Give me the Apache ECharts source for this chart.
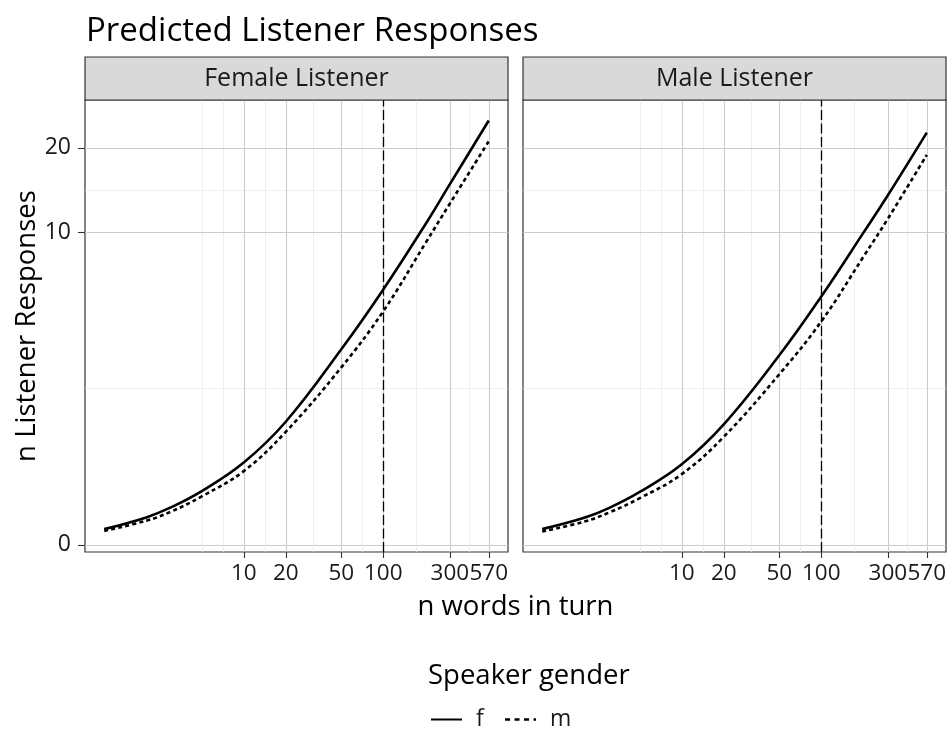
<!DOCTYPE html>
<html>
<head>
<meta charset="utf-8">
<script src="https://cdn.jsdelivr.net/npm/echarts@6/dist/echarts.min.js"></script>
<style>
  html, body { margin: 0; padding: 0; background: #ffffff; }
  #chart { width: 952px; height: 731px; }
</style>
</head>
<body>
<div id="chart"></div>
<script>
// Predicted number of listener responses by turn length (words), per listener and speaker gender
const wordCounts      = [1, 2, 3, 5, 10, 20, 50, 100, 200, 300, 570];
const femaleListenerF = [0.128, 0.234, 0.332, 0.51, 0.88, 1.57, 3.48, 6.09, 10.67, 14.9, 24.9];
const femaleListenerM = [0.113, 0.203, 0.289, 0.45, 0.76, 1.38, 2.9, 5.0, 9.1, 12.7, 21.1];
const maleListenerF   = [0.128, 0.23, 0.325, 0.50, 0.856, 1.52, 3.28, 5.72, 9.94, 13.6, 22.6];
const maleListenerM   = [0.108, 0.195, 0.28, 0.43, 0.72, 1.29, 2.7, 4.55, 8.1, 11.2, 18.9];

const xTicks = [10, 20, 50, 100, 300, 570];
const yTicks = [0, 10, 20];
const referenceWords = 100;
const panelNames = ['Female Listener', 'Male Listener'];
const genderNames = ['f', 'm'];

const FONT = '"Open Sans", "Noto Sans", sans-serif';

// axis transforms: log10 on x, log(1 + y) on y
const tx = v => Math.log10(v);
const ty = v => Math.log1p(v);

function expand(lo, hi) {
  const d = (hi - lo) * 0.05;
  return [lo - d, hi + d];
}
const allValues = [].concat(femaleListenerF, femaleListenerM, maleListenerF, maleListenerM);
const xLim = expand(tx(Math.min(...wordCounts)), tx(Math.max(...wordCounts)));
const yLim = expand(ty(Math.min(...allValues)), ty(Math.max(...allValues)));

// minor grid: midpoints between major breaks, with one extra step below the first break
function minorBreaks(major, lim) {
  const b = major.slice();
  if (lim[0] < b[0]) b.unshift(b[0] - (b[1] - b[0]));
  const out = [];
  for (let i = 0; i < b.length - 1; i++) {
    out.push(b[i], (b[i] + b[i + 1]) / 2);
  }
  return out.filter(v => v > lim[0] && v < lim[1] && !major.some(m => Math.abs(m - v) < 1e-9));
}
const xMajor = xTicks.map(tx);
const yMajor = yTicks.map(ty);
const xMinor = minorBreaks(xMajor, xLim);
const yMinor = minorBreaks(yMajor, yLim);

// layout
const panelTop = 100, panelHeight = 452, panelWidth = 423;
const panelLefts = [85, 523];
const stripHeight = 43;

const seriesData = [
  [femaleListenerF, femaleListenerM],
  [maleListenerF, maleListenerM]
];

const grids = panelLefts.map(l => ({
  left: l, top: panelTop, width: panelWidth, height: panelHeight,
  show: true, borderColor: '#333333', borderWidth: 1.2, backgroundColor: 'transparent',
  containLabel: false
}));

const xAxes = [], yAxes = [];
panelLefts.forEach((l, g) => {
  xAxes.push({
    type: 'value', gridIndex: g, min: xLim[0], max: xLim[1], position: 'bottom', z: 2,
    axisLine: { show: false, onZero: false },
    axisTick: { show: true, inside: false, length: 6, customValues: xMajor,
      lineStyle: { color: '#333333', width: 1.1 } },
    axisLabel: { show: true, customValues: xMajor, margin: 10, hideOverlap: false,
      formatter: v => String(Math.round(Math.pow(10, v))),
      fontSize: 22.5, color: '#1a1a1a', fontFamily: FONT },
    splitLine: { show: true, lineStyle: { color: '#cccccc', width: 1.1 } }
  });
  yAxes.push({
    type: 'value', gridIndex: g, min: yLim[0], max: yLim[1], position: 'left', z: 2,
    name: g === 0 ? 'n Listener Responses' : '',
    nameLocation: 'middle', nameGap: 38,
    nameTextStyle: { fontSize: 27.5, color: '#000000', fontFamily: FONT },
    axisLine: { show: false, onZero: false },
    axisTick: { show: g === 0, inside: false, length: 7, customValues: yMajor,
      lineStyle: { color: '#333333', width: 1.1 } },
    axisLabel: { show: g === 0, customValues: yMajor, margin: 14, hideOverlap: false,
      formatter: v => String(Math.round(Math.expm1(v))),
      fontSize: 23, color: '#1a1a1a', fontFamily: FONT },
    splitLine: { show: true, lineStyle: { color: '#cccccc', width: 1.1 } }
  });
});
// minor grid axes (no labels, no visible ticks)
panelLefts.forEach((l, g) => {
  xAxes.push({
    type: 'value', gridIndex: g, min: xLim[0], max: xLim[1], position: 'top', z: 1,
    axisLine: { show: false, onZero: false }, axisLabel: { show: false },
    axisTick: { show: true, length: 0, customValues: xMinor, lineStyle: { color: 'rgba(0,0,0,0)' } },
    splitLine: { show: true, lineStyle: { color: '#ebebeb', width: 0.8 } }
  });
  yAxes.push({
    type: 'value', gridIndex: g, min: yLim[0], max: yLim[1], position: 'right', z: 1,
    axisLine: { show: false, onZero: false }, axisLabel: { show: false },
    axisTick: { show: true, length: 0, customValues: yMinor, lineStyle: { color: 'rgba(0,0,0,0)' } },
    splitLine: { show: true, lineStyle: { color: '#ebebeb', width: 0.8 } }
  });
});

const lineTypes = ['solid', [4, 3.2]];
const series = [];
seriesData.forEach((pair, g) => {
  pair.forEach((vals, k) => {
    const s = {
      type: 'line', name: genderNames[k], xAxisIndex: g, yAxisIndex: g,
      data: wordCounts.map((w, i) => [tx(w), ty(vals[i])]),
      smooth: 0.4, showSymbol: false, symbol: 'none',
      lineStyle: { color: '#000000', width: 2.6, type: lineTypes[k], cap: 'butt' },
      itemStyle: { color: '#000000' },
      z: 3, silent: true
    };
    if (k === 0) {
      s.markLine = {
        silent: true, symbol: ['none', 'none'], label: { show: false },
        lineStyle: { color: '#000000', type: [10, 3.5], width: 1.3 },
        data: [{ xAxis: tx(referenceWords) }]
      };
    }
    series.push(s);
  });
});

const graphics = [];
panelLefts.forEach((l, g) => {
  graphics.push({
    type: 'rect', shape: { x: l, y: panelTop - stripHeight, width: panelWidth, height: stripHeight },
    style: { fill: '#d9d9d9', stroke: '#333333', lineWidth: 1.2 }, z: 10
  });
  graphics.push({
    type: 'text', x: l + panelWidth / 2, y: panelTop - stripHeight / 2,
    style: { text: panelNames[g], fill: '#1a1a1a', font: '25px ' + FONT,
      textAlign: 'center', textVerticalAlign: 'middle' }, z: 11
  });
});
graphics.push({
  type: 'text', x: (panelLefts[0] + panelLefts[1] + panelWidth) / 2, y: 607,
  style: { text: 'n words in turn', fill: '#000000', font: '27.5px ' + FONT,
    textAlign: 'center', textVerticalAlign: 'middle' }
});
graphics.push({
  type: 'text', x: 428, y: 676,
  style: { text: 'Speaker gender', fill: '#000000', font: '27.5px ' + FONT,
    textAlign: 'left', textVerticalAlign: 'middle' }
});

const chart = echarts.init(document.getElementById('chart'), null, { renderer: 'canvas' });
chart.setOption({
  animation: false,
  backgroundColor: '#ffffff',
  title: {
    text: 'Predicted Listener Responses', left: 81, top: 10,
    textStyle: { fontSize: 33, fontWeight: 'normal', color: '#000000', fontFamily: FONT }
  },
  legend: {
    data: [
      { name: genderNames[0] },
      { name: genderNames[1], lineStyle: { type: [5, 4.5], width: 2.6 } }
    ],
    left: 430, top: 708, padding: 0,
    itemWidth: 31, itemHeight: 14, itemGap: 20,
    itemStyle: { opacity: 0 },
    textStyle: { fontSize: 23, color: '#1a1a1a', fontFamily: FONT, padding: [0, 0, 0, 9] },
    selectedMode: false
  },
  grid: grids,
  xAxis: xAxes,
  yAxis: yAxes,
  series: series,
  graphic: graphics
});
</script>
</body>
</html>
